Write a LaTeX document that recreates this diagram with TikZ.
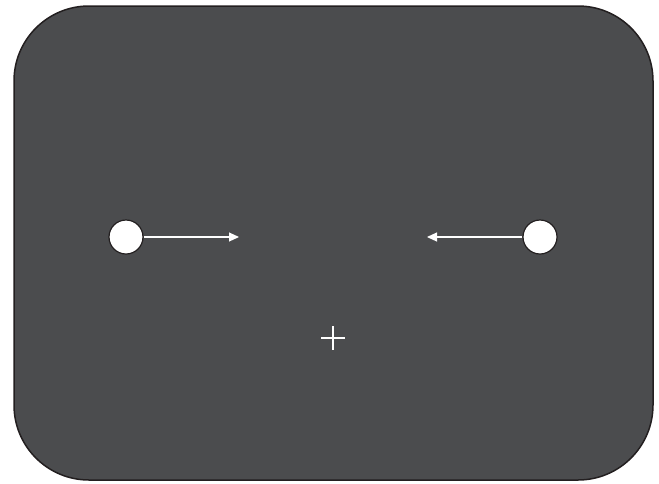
\documentclass[tikz,border=0pt]{standalone}
\usepackage{tikz}
\usetikzlibrary{calc}
\usetikzlibrary{arrows.meta}
\definecolor{panel}{HTML}{4B4C4E}
\definecolor{rim}{HTML}{231F20}

\begin{document}
\begin{tikzpicture}[x=1pt,y=-1pt]
    \useasboundingbox (0,0) rectangle (659,483);
    \draw[rim, line width=1.5pt, fill=panel, rounded corners=75pt] (14,6) rectangle (653,480);
    \node[circle, draw=rim, line width=1.2pt, fill=white, minimum size=34pt, inner sep=0pt] (ql) at (126,237) {};
    \node[circle, draw=rim, line width=1.2pt, fill=white, minimum size=34pt, inner sep=0pt] (qr) at (540,237) {};
    \coordinate (tl) at (239,237);
    \coordinate (tr) at (427,237);
    \draw[white, line width=1.1pt, -{Triangle[length=10pt,width=9pt]}] (ql) -- (tl);
    \draw[white, line width=1.1pt, -{Triangle[length=10pt,width=9pt]}] (qr) -- (tr);
    \draw[white, line width=1.4pt] (321,338) -- +(24,0);
    \draw[white, line width=1.4pt] (333,326) -- +(0,24);
\end{tikzpicture}
\end{document}
